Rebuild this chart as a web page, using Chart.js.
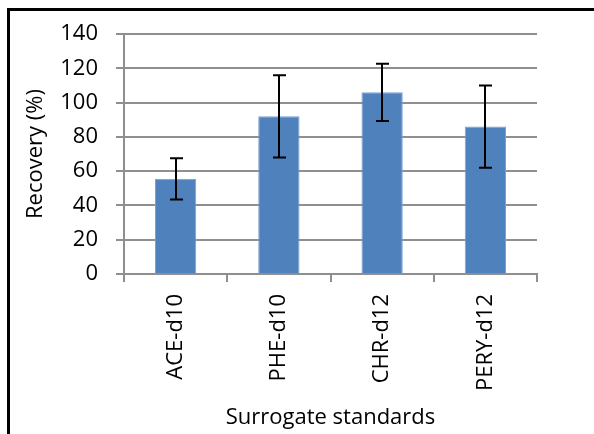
<!DOCTYPE html>
<html>
<head>
<meta charset="utf-8">
<script src="https://cdn.jsdelivr.net/npm/chart.js@4.4.1/dist/chart.umd.min.js"></script>
<style>
  html, body { margin: 0; padding: 0; background: #fff; }
  body { width: 594px; height: 434px; position: relative; overflow: hidden; }
  .frame {
    position: absolute; left: 7px; top: 8px; width: 700px; height: 600px;
    border-left: 3px solid #000; border-top: 3px solid #000;
  }
  .wrap { position: absolute; left: 0; top: 0; width: 594px; height: 434px; }
</style>
</head>
<body>
<div class="frame"></div>
<div class="wrap"><canvas id="recoveryChart" width="594" height="434"></canvas></div>
<script>
// Chart data
const categories = ['ACE-d10', 'PHE-d10', 'CHR-d12', 'PERY-d12'];
const recovery = [55.5, 92, 106, 86];
const recoveryErr = [12, 24, 16.7, 24];
const yTicks = [0, 20, 40, 60, 80, 100, 120, 140];

const FONT = 'Open Sans, DejaVu Sans, sans-serif';
const GRID = '#8f8f8f';

// Draw error bars on top of the bars using the y scale
const errorBars = {
  id: 'errorBars',
  afterDatasetsDraw(chart) {
    const ctx = chart.ctx;
    const y = chart.scales.y;
    const meta = chart.getDatasetMeta(0);
    ctx.save();
    ctx.strokeStyle = '#000';
    ctx.lineWidth = 2;
    meta.data.forEach((bar, i) => {
      const top = y.getPixelForValue(recovery[i] + recoveryErr[i]);
      const bottom = y.getPixelForValue(recovery[i] - recoveryErr[i]);
      const x = Math.round(bar.x);
      ctx.beginPath();
      ctx.moveTo(x, top);
      ctx.lineTo(x, bottom);
      ctx.moveTo(x - 6, top);
      ctx.lineTo(x + 7, top);
      ctx.moveTo(x - 6, bottom);
      ctx.lineTo(x + 7, bottom);
      ctx.stroke();
    });
    ctx.restore();
  }
};

const ctx = document.getElementById('recoveryChart').getContext('2d');
new Chart(ctx, {
  type: 'bar',
  data: {
    labels: categories,
    datasets: [{
      data: recovery,
      backgroundColor: '#4F81BD',
      borderColor: '#7DA1CF',
      borderWidth: 1,
      categoryPercentage: 1,
      barPercentage: 0.4
    }]
  },
  options: {
    responsive: false,
    animation: false,
    devicePixelRatio: 1,
    layout: {
      padding: { top: 34, right: 57, bottom: 0, left: 0 }
    },
    plugins: {
      legend: { display: false },
      tooltip: { enabled: false }
    },
    scales: {
      x: {
        offset: true,
        afterFit: (scale) => { scale.height = 160; },
        grid: {
          offset: true,
          drawOnChartArea: false,
          drawTicks: true,
          tickLength: 8,
          color: GRID,
          lineWidth: 2
        },
        border: { color: GRID, width: 2 },
        ticks: {
          color: '#000',
          font: { family: FONT, size: 22 },
          maxRotation: 90,
          minRotation: 90,
          padding: 12
        },
        title: {
          display: true,
          text: 'Surrogate standards',
          color: '#000',
          font: { family: FONT, size: 22 },
          padding: { top: 0, bottom: 3 }
        }
      },
      y: {
        min: 0,
        max: 140,
        afterFit: (scale) => { scale.width = 124; },
        afterBuildTicks: (scale) => {
          scale.ticks = yTicks.map(v => ({ value: v }));
        },
        grid: {
          color: GRID,
          lineWidth: 2,
          tickLength: 8
        },
        border: { color: GRID, width: 2 },
        ticks: {
          color: '#000',
          font: { family: FONT, size: 22 },
          padding: 18
        },
        title: {
          display: true,
          text: 'Recovery (%)',
          color: '#000',
          font: { family: FONT, size: 22 },
          padding: { top: 23, bottom: 0 }
        }
      }
    }
  },
  plugins: [errorBars]
});
</script>
</body>
</html>
